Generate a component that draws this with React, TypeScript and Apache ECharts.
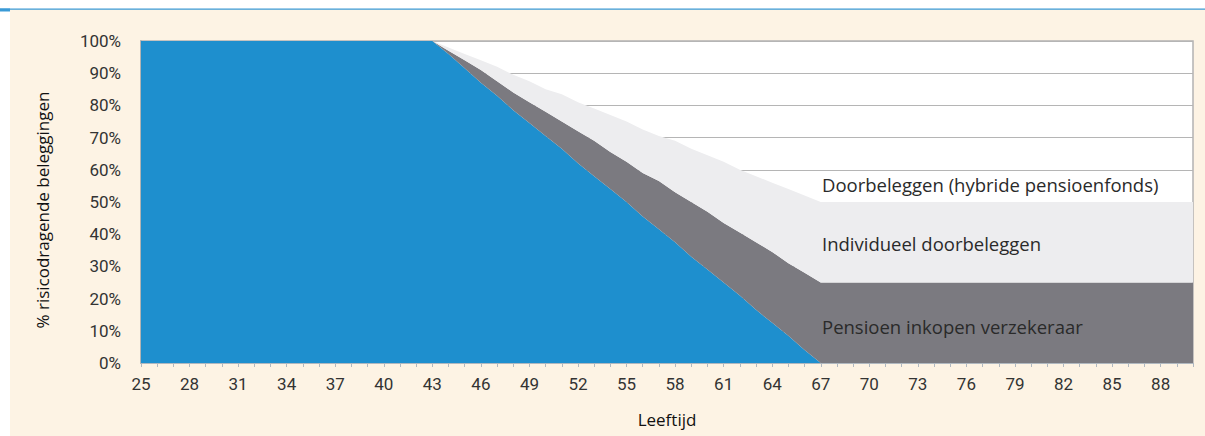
import React, { useEffect, useRef } from "react";
import * as echarts from "echarts";

const ages: string[] = [];
for (let a = 25; a <= 90; a++) ages.push(String(a));

// Layer values per age 25..90 (stacked)
const before43 = new Array(19).fill(0); // ages 25..43
const after67 = new Array(23).fill(0); // ages 68..90

const blueValues = [
  ...new Array(19).fill(100),
  96, 91.5, 87, 83, 78.5, 74.5, 70.5, 66.5, 62, 58, 54, 50, 45.5, 41.5, 37.5, 33, 29, 25, 21, 16.5, 12.5, 8.5, 4, 0,
  ...after67,
];
const verzekeraarValues = [
  ...before43,
  1, 2.5, 4, 4.5, 5.5, 6.5, 7.5, 8.5, 10, 11, 11.5, 12.5, 13.5, 15, 15.5, 17, 18, 18.5, 19.5, 21, 22, 22.5, 24, 25,
  ...new Array(23).fill(25),
];
const individueelValues = [
  ...before43,
  1, 2, 3, 4.5, 5.5, 6.5, 7, 8.5, 9, 10, 11.5, 12.5, 13.5, 14, 16, 16.5, 17.5, 19, 19.5, 20.5, 21.5, 23, 24, 25,
  ...new Array(23).fill(25),
];

const seriesNames = ["Risicodragend", "Pensioen inkopen verzekeraar", "Individueel doorbeleggen"];
const annotationTexts = [
  "Doorbeleggen (hybride pensioenfonds)",
  "Individueel doorbeleggen",
  "Pensioen inkopen verzekeraar",
];

const FONT = "Roboto, 'Noto Sans', sans-serif";
const FONT2 = "'Open Sans', 'Noto Sans', sans-serif";

export default function App() {
  const ref = useRef<HTMLDivElement>(null);
  useEffect(() => {
    document.body.style.margin = "0";
    const chart = echarts.init(ref.current!, null, { renderer: "svg" });
    const area = (name: string, data: number[], color: string) => ({
      name,
      type: "line",
      stack: "total",
      data,
      symbol: "none",
      lineStyle: { width: 0 },
      areaStyle: { color, opacity: 1 },
      itemStyle: { color },
    });
    chart.setOption({
      animation: false,
      backgroundColor: "#fdf3e4",
      textStyle: { fontFamily: FONT },
      grid: {
        left: 141,
        right: 12,
        top: 41,
        bottom: 73,
        show: true,
        backgroundColor: "#ffffff",
        borderColor: "#b3b3b3",
        borderWidth: 1.5,
      },
      xAxis: {
        type: "category",
        data: ages,
        boundaryGap: false,
        name: "Leeftijd",
        nameLocation: "middle",
        nameGap: 48,
        nameTextStyle: { fontSize: 17, color: "#111", fontWeight: 500, fontFamily: FONT2 },
        axisLine: { show: true, lineStyle: { color: "#b0b8c0", width: 1 } },
        axisTick: { show: true, interval: 0, length: 4, lineStyle: { color: "#b0b8c0" } },
        axisLabel: { interval: 2, fontSize: 17, color: "#333", margin: 12, fontFamily: FONT },
        splitLine: { show: false },
      },
      yAxis: [
        {
          type: "value",
          min: 0,
          max: 100,
          interval: 10,
          name: "% risicodragende beleggingen",
          nameLocation: "middle",
          nameGap: 90,
          nameTextStyle: {
            fontSize: 17,
            color: "#111",
            fontWeight: 500,
            fontFamily: FONT2,
            padding: [0, 16, 0, 0],
          },
          axisLine: { show: true, lineStyle: { color: "#b3b3b3", width: 2 } },
          axisTick: { show: false },
          axisLabel: { formatter: "{value}%", fontSize: 17, color: "#333", margin: 20, fontFamily: FONT },
          splitLine: { show: true, lineStyle: { color: "#b5b5b5", width: 1.2 } },
        },
      ],
      series: [
        area(seriesNames[0], blueValues, "#1e8fce"),
        area(seriesNames[1], verzekeraarValues, "#7b7a80"),
        area(seriesNames[2], individueelValues, "#ededef"),
      ],
      graphic: [
        { type: "rect", shape: { x: 0, y: 0, width: 1205, height: 9 }, style: { fill: "#ffffff" }, silent: true },
        { type: "rect", shape: { x: 0, y: 0, width: 10, height: 436 }, style: { fill: "#ffffff" }, silent: true },
        { type: "rect", shape: { x: 0, y: 8.5, width: 1205, height: 1.3 }, style: { fill: "#3a9ad6" }, silent: true },
        { type: "rect", shape: { x: 0, y: 8.5, width: 10, height: 3 }, style: { fill: "#3a9ad6" }, silent: true },
        {
          type: "text",
          x: 822,
          y: 184,
          style: { text: annotationTexts[0], fill: "#2a2a2a", font: `18.5px ${FONT2}`, verticalAlign: "middle" },
          z: 100,
        },
        {
          type: "text",
          x: 822,
          y: 243,
          style: { text: annotationTexts[1], fill: "#2a2a2a", font: `18.5px ${FONT2}`, verticalAlign: "middle" },
          z: 100,
        },
        {
          type: "text",
          x: 822,
          y: 326,
          style: { text: annotationTexts[2], fill: "#2a2a2a", font: `18.5px ${FONT2}`, verticalAlign: "middle" },
          z: 100,
        },
      ],
    });
    return () => chart.dispose();
  }, []);
  return (
    <div style={{ position: "absolute", left: 0, top: 0 }}>
      <div ref={ref} style={{ width: 1205, height: 436 }} />
    </div>
  );
}
